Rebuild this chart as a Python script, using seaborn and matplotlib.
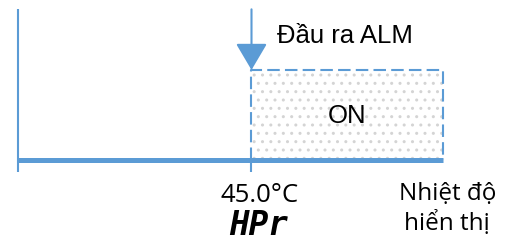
import matplotlib
matplotlib.use("Agg")
import matplotlib.pyplot as plt
import seaborn as sns

# data
axis_temp = [0.0, 82.0]          # ends of the temperature axis
alarm_temp = 45.0                # HPr set value
on_range = [45.0, 82.0]          # where the alarm output is ON
output_levels = [0.0, 1.0]       # OFF / ON
threshold_label = "45.0°C"
param_label = "HPr"
output_label = "Đầu ra ALM"
state_label = "ON"
axis_label = ["Nhiệt độ", "hiển thị"]

BLUE = "#5b9bd5"

sns.set_style("white")

fig = plt.figure(figsize=(5.10, 2.43), dpi=100)
ax = fig.add_axes([0, 0, 1, 1])
ax.set_xlim(-3.47, 94.82)
ax.set_ylim(-0.912, 1.773)
ax.axis("off")

y_off, y_on = output_levels
y_top = 1.67
y_tick = -0.13

# dotted ON area
ax.fill_between(on_range, y_off, y_on, facecolor="none", edgecolor="#d4d4d4",
                hatch="..", linewidth=0)

# dashed outline of ON area
sns.lineplot(x=[on_range[0], on_range[0], on_range[1], on_range[1]],
             y=[y_off, y_on, y_on, y_off], sort=False, estimator=None,
             color=BLUE, linewidth=1.5, ax=ax, dashes=False)
ax.lines[-1].set_dashes((6, 2.5))

# axes lines
ax.plot([axis_temp[0], axis_temp[0]], [y_tick, y_top], color=BLUE, lw=1.5, solid_capstyle="butt")
ax.plot(axis_temp, [y_off, y_off], color=BLUE, lw=3.6, solid_capstyle="butt")
ax.plot([alarm_temp, alarm_temp], [y_tick, y_off], color=BLUE, lw=1.5, solid_capstyle="butt")

# arrow down to the ON level
ax.annotate("", xy=(alarm_temp, y_on), xytext=(alarm_temp, y_top),
            arrowprops=dict(arrowstyle="-|>,head_length=0.83,head_width=0.49",
                            color=BLUE, lw=1.5, mutation_scale=20,
                            shrinkA=0, shrinkB=0))

# texts
ax.text(49.9, 1.30, output_label, fontsize=18.5, family="Liberation Sans",
        ha="left", va="baseline", color="black")
ax.text(sum(on_range) / 2, 0.41, state_label, fontsize=18.5, family="Liberation Sans",
        ha="center", va="baseline", color="black")
ax.text(46.6, -0.459, threshold_label, fontsize=18.5, family=["Open Sans", "DejaVu Sans"],
        ha="center", va="baseline", color="black")
ax.text(46.3, -0.823, param_label, fontsize=23.5, family="DejaVu Sans Mono",
        fontweight="bold", style="italic", ha="center", va="baseline", color="black")
ax.text(82.75, -0.436, axis_label[0], fontsize=17.5, family=["Open Sans", "DejaVu Sans"],
        ha="center", va="baseline", color="black")
ax.text(82.75, -0.768, axis_label[1], fontsize=17.5, family=["Open Sans", "DejaVu Sans"],
        ha="center", va="baseline", color="black")

fig.savefig("out.png", dpi=100)
